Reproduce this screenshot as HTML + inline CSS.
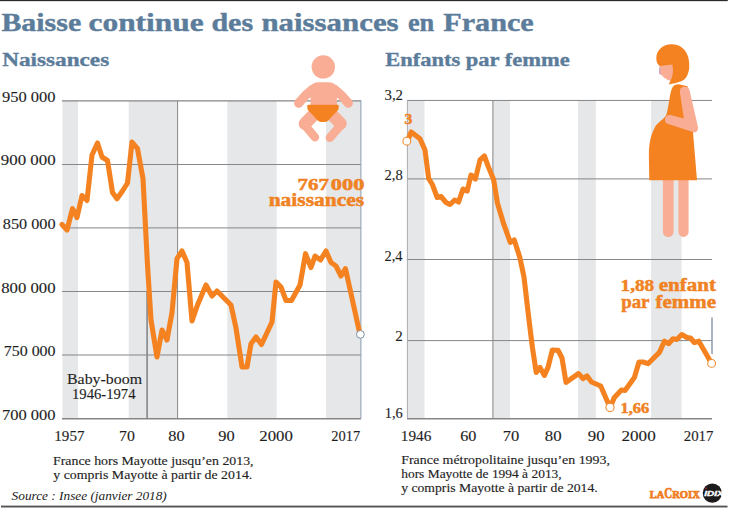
<!DOCTYPE html>
<html lang="fr">
<head>
<meta charset="utf-8">
<title>Baisse continue des naissances en France</title>
<style>
  html, body { margin: 0; padding: 0; background: #ffffff; }
  body { width: 729px; height: 509px; overflow: hidden; font-family: "Liberation Serif", serif; }
  svg { display: block; }
  text { font-family: "Liberation Serif", serif; }
  .t-title { font-weight: bold; font-size: 26px; fill: #5b7c9a; stroke: #5b7c9a; stroke-width: 0.4; }
  .t-sub { font-weight: bold; font-size: 18.5px; fill: #5b7c9a; stroke: #5b7c9a; stroke-width: 0.35; }
  .t-ax { font-size: 15px; fill: #1e1e1e; stroke: #1e1e1e; stroke-width: 0.12; }
  .t-note { font-size: 13.3px; fill: #1e1e1e; stroke: #1e1e1e; stroke-width: 0.15; }
  .t-src { font-size: 13.5px; font-style: italic; fill: #222222; }
  .t-or { font-weight: bold; fill: #f08223; stroke: #f08223; stroke-width: 0.5; }
  .band { fill: #e6e7e8; }
  .grid { stroke: #858688; stroke-width: 1; fill: none; }
  .curve { fill: none; stroke: #f58220; stroke-width: 5.1; stroke-linejoin: round; stroke-linecap: round; }
  .dot { fill: #ffffff; stroke: #f08a2e; stroke-width: 1.1; }
  .dotb { fill: #ffffff; stroke: #7b8fa5; stroke-width: 1; }
  .skin { fill: #f8ad94; }
  .skin-s { stroke: #f8ad94; fill: none; stroke-linecap: round; stroke-linejoin: round; }
  .or { fill: #f58220; }
</style>
</head>
<body>
<svg width="729" height="509" viewBox="0 0 729 509">
  <rect x="0" y="0" width="729" height="509" fill="#ffffff"/>
  <!-- top / bottom rules -->
  <rect x="0" y="0" width="727.8" height="1.15" fill="#2a2a2a"/>
  <rect x="1" y="505.6" width="726.5" height="1.9" fill="#555555"/>

  <!-- headings -->
  <text class="t-title" x="1.4" y="30.7" textLength="79.8" lengthAdjust="spacingAndGlyphs">Baisse</text>
  <text class="t-title" x="88.5" y="30.7" textLength="115.2" lengthAdjust="spacingAndGlyphs">continue</text>
  <text class="t-title" x="211.4" y="30.7" textLength="41.8" lengthAdjust="spacingAndGlyphs">des</text>
  <text class="t-title" x="261.4" y="30.7" textLength="137.2" lengthAdjust="spacingAndGlyphs">naissances</text>
  <text class="t-title" x="407.9" y="30.7" textLength="26.4" lengthAdjust="spacingAndGlyphs">en</text>
  <text class="t-title" x="443.2" y="30.7" textLength="90.6" lengthAdjust="spacingAndGlyphs">France</text>
  <text class="t-sub" x="2.2" y="65.8" textLength="107" lengthAdjust="spacingAndGlyphs">Naissances</text>
  <text class="t-sub" x="385.2" y="65.9" textLength="184.5" lengthAdjust="spacingAndGlyphs">Enfants par femme</text>

  <!-- ================= LEFT CHART ================= -->
  <g id="left-chart">
    <rect class="band" x="62.5" y="101" width="15.5" height="317"/>
    <rect class="band" x="128.7" y="101" width="48.6" height="317"/>
    <rect class="band" x="227.3" y="101" width="49.4" height="317"/>
    <rect class="band" x="326" y="101" width="35" height="317"/>

    <line class="grid" x1="62" y1="100.9" x2="361" y2="100.9" style="stroke-width:1.2"/>
    <line class="grid" x1="62" y1="164.5" x2="361" y2="164.5"/>
    <line class="grid" x1="62" y1="227.9" x2="361" y2="227.9"/>
    <line class="grid" x1="62" y1="291.5" x2="361" y2="291.5"/>
    <line class="grid" x1="62" y1="355" x2="361" y2="355"/>
    <line class="grid" x1="62" y1="418.7" x2="361" y2="418.7" style="stroke-width:1.4"/>
    <line class="grid" x1="147.1" y1="291" x2="147.1" y2="418.6" style="stroke-width:1.6"/>
    <line class="grid" x1="177.6" y1="101" x2="177.6" y2="418.6"/>
    <line x1="360.9" y1="100.5" x2="360.9" y2="418.6" stroke="#8d9cae" stroke-width="1"/>

    <polyline class="curve" points="62,224.5 67,230 72.5,208.7 77,217.5 82,195.5 87,200.5 92,155 97.5,143 102,157 107.5,160.5 112.5,192.5 117,198.7 122.5,191 127.5,183 132,142 137.5,148.7 143,178.7 147.5,265 151,320 157,357 162,330 167,340 172,312.5 177,258.7 182,251 187,262.5 192,321 197.5,305 206,285 212,296 217,291 231,305 236,328 242,367 247,367 251,343.7 256,337 261.5,344.5 272,322 276,282 281,287 286,300.5 291.5,300.5 300,285 305.5,253.7 311,267.5 315,256 320.5,260 326,251 331,262.5 336,266 341,276 345.5,268.7 360,334.5"/>
    <circle class="dotb" cx="360.4" cy="334.4" r="3.9"/>

    <text class="t-ax" x="2.0" y="102.3" textLength="53.6" lengthAdjust="spacingAndGlyphs">950 000</text>
    <text class="t-ax" x="0.8" y="165.1" textLength="54.8" lengthAdjust="spacingAndGlyphs">900 000</text>
    <text class="t-ax" x="2.8" y="229.1" textLength="52.8" lengthAdjust="spacingAndGlyphs">850 000</text>
    <text class="t-ax" x="1.2" y="292.7" textLength="54.4" lengthAdjust="spacingAndGlyphs">800 000</text>
    <text class="t-ax" x="3.7" y="355.9" textLength="51.9" lengthAdjust="spacingAndGlyphs">750 000</text>
    <text class="t-ax" x="2.0" y="420.1" textLength="53.6" lengthAdjust="spacingAndGlyphs">700 000</text>

    <text class="t-ax" x="54.3" y="441.1" textLength="30.2" lengthAdjust="spacingAndGlyphs">1957</text>
    <text class="t-ax" x="119" y="441.1" textLength="15.9" lengthAdjust="spacingAndGlyphs">70</text>
    <text class="t-ax" x="168.2" y="441.1" textLength="16.4" lengthAdjust="spacingAndGlyphs">80</text>
    <text class="t-ax" x="218.2" y="441.1" textLength="16.4" lengthAdjust="spacingAndGlyphs">90</text>
    <text class="t-ax" x="259.3" y="441.1" textLength="33.6" lengthAdjust="spacingAndGlyphs">2000</text>
    <text class="t-ax" x="331.2" y="441.1" textLength="29" lengthAdjust="spacingAndGlyphs">2017</text>

    <text class="t-ax" x="67" y="384" textLength="75" lengthAdjust="spacingAndGlyphs">Baby-boom</text>
    <text class="t-ax" x="72" y="399.3" textLength="63.5" lengthAdjust="spacingAndGlyphs">1946-1974</text>

    <text class="t-or" x="297.6" y="189.6" font-size="16.8" textLength="31.2" lengthAdjust="spacingAndGlyphs">767</text>
    <text class="t-or" x="330.8" y="189.6" font-size="16.8" textLength="33.6" lengthAdjust="spacingAndGlyphs">000</text>
    <text class="t-or" x="268.7" y="206.4" font-size="18.6" textLength="95.4" lengthAdjust="spacingAndGlyphs">naissances</text>

    <text class="t-note" x="53" y="464.8" textLength="200.6" lengthAdjust="spacingAndGlyphs">France hors Mayotte jusqu’en 2013,</text>
    <text class="t-note" x="53.3" y="478.8" textLength="199" lengthAdjust="spacingAndGlyphs">y compris Mayotte à partir de 2014.</text>
    <text class="t-src" x="11.6" y="499.6" textLength="155.2" lengthAdjust="spacingAndGlyphs">Source : Insee (janvier 2018)</text>
  </g>

  <!-- baby icon -->
  <g id="baby">
    <circle class="skin" cx="323.3" cy="66.9" r="11.7"/>
    <path class="skin" d="M310.5,89 Q311,82.3 318,82.3 L329,82.3 Q336,82.3 336.8,89 L337,108 L310.5,108 Z"/>
    <path class="skin-s" stroke-width="9.2" d="M313,89 Q305.5,94.5 298.7,103.2"/>
    <path class="skin-s" stroke-width="9.2" d="M334,89 Q341.5,94.5 348.3,103.2"/>
    <path class="skin-s" stroke-width="12.6" d="M313,115.5 L304.9,123.7"/>
    <path class="skin-s" stroke-width="8.4" d="M304.2,124.6 L315,137.2"/>
    <path class="skin-s" stroke-width="12.6" d="M332.8,115.5 L340.5,123.5"/>
    <path class="skin-s" stroke-width="8.6" d="M341.2,124.6 L329.9,137.8"/>
    <path class="or" d="M308.5,104.8 L337.5,104.8 Q338.8,104.8 338.8,106 L338.6,108.6 Q338.5,109.6 337.8,110.3 L328.2,120.4 Q326.6,122 324.4,122 L321.6,122 Q319.4,122 317.8,120.4 L308.2,110.3 Q307.5,109.6 307.4,108.6 L307.2,106 Q307.2,104.8 308.5,104.8 Z"/>
  </g>

  <!-- ================= RIGHT CHART ================= -->
  <g id="right-chart">
    <rect class="band" x="407" y="100" width="17.5" height="318"/>
    <rect class="band" x="493" y="100" width="17" height="318"/>
    <rect class="band" x="578" y="100" width="17.8" height="318"/>
    <rect class="band" x="651.1" y="100" width="30.5" height="318"/>

    <line class="grid" x1="407" y1="100.45" x2="712" y2="100.45"/>
    <line class="grid" x1="407" y1="178.9" x2="712" y2="178.9"/>
    <line class="grid" x1="407" y1="259.5" x2="712" y2="259.5"/>
    <line class="grid" x1="407" y1="340.6" x2="712" y2="340.6"/>
    <line class="grid" x1="407" y1="418.7" x2="712" y2="418.7" style="stroke-width:1.4"/>
    <line x1="407.4" y1="100" x2="407.4" y2="418.6" stroke="#a5a6a8" stroke-width="0.9"/>
    <line class="grid" x1="492.9" y1="100" x2="492.9" y2="418.6"/>
    <line x1="712" y1="317.5" x2="712" y2="354" stroke="#8e9db0" stroke-width="1.5"/>

    <polyline class="curve" points="408,140 411.2,132 420,138.7 425,150 428.7,178.7 432.4,184.5 437.2,197.5 441,196.5 446,202.5 450,204.5 454.7,200 458.6,202 463,189 467.2,191 471,175 475.4,179 480,160 484.4,156 488.6,167.4 493.6,179.5 497.4,203 503.6,223.7 510.3,242.4 514.3,240 519.8,257.4 524,277 528.7,317.4 532.4,347.4 536.2,372.4 540,367.4 544.4,375.4 548,367.4 552.4,350 558,350.2 562,358 566,382.4 578.4,373.6 583,378.6 587,376 591.5,382 600.7,386 610,407.4 614.4,397.4 621.4,390 625,390.4 634.4,377.4 639,362 643,362 648,363.7 659.4,352.4 664.4,341.2 668.8,343.7 673,338.7 676.8,339.5 681.8,334.5 686.8,337.5 690.5,338 694.3,342.5 698.8,341.2 711.8,363.7"/>
    <circle class="dot" cx="406.8" cy="141.2" r="3.9"/>
    <circle class="dot" cx="610" cy="407.4" r="4.1"/>
    <circle class="dot" cx="711.6" cy="363.4" r="3.9"/>

    <text class="t-ax" x="384.5" y="100.3" textLength="18.5" lengthAdjust="spacingAndGlyphs">3,2</text>
    <text class="t-ax" x="384.5" y="180" textLength="18.3" lengthAdjust="spacingAndGlyphs">2,8</text>
    <text class="t-ax" x="384.5" y="260.8" textLength="18" lengthAdjust="spacingAndGlyphs">2,4</text>
    <text class="t-ax" x="395.2" y="341.3">2</text>
    <text class="t-ax" x="384.7" y="418" textLength="18" lengthAdjust="spacingAndGlyphs">1,6</text>

    <text class="t-ax" x="400.8" y="441.1" textLength="30.6" lengthAdjust="spacingAndGlyphs">1946</text>
    <text class="t-ax" x="460.2" y="441.1" textLength="16.2" lengthAdjust="spacingAndGlyphs">60</text>
    <text class="t-ax" x="502.8" y="441.1" textLength="16.6" lengthAdjust="spacingAndGlyphs">70</text>
    <text class="t-ax" x="544.8" y="441.1" textLength="16.8" lengthAdjust="spacingAndGlyphs">80</text>
    <text class="t-ax" x="587.8" y="441.1" textLength="16.8" lengthAdjust="spacingAndGlyphs">90</text>
    <text class="t-ax" x="621.5" y="441.1" textLength="34.2" lengthAdjust="spacingAndGlyphs">2000</text>
    <text class="t-ax" x="683.7" y="441.1" textLength="29.8" lengthAdjust="spacingAndGlyphs">2017</text>

    <text class="t-or" x="404.4" y="124" font-size="14.8" textLength="7.8" lengthAdjust="spacingAndGlyphs">3</text>
    <text class="t-or" x="620.6" y="412.7" font-size="13.8" textLength="28.6" lengthAdjust="spacingAndGlyphs">1,66</text>
    <text class="t-or" x="620.6" y="290.8" font-size="17" textLength="33.6" lengthAdjust="spacingAndGlyphs">1,88</text>
    <text class="t-or" x="658.8" y="290.8" font-size="18.6" textLength="57.2" lengthAdjust="spacingAndGlyphs">enfant</text>
    <text class="t-or" x="621.2" y="308" font-size="18.6" textLength="28.3" lengthAdjust="spacingAndGlyphs">par</text>
    <text class="t-or" x="655.6" y="308" font-size="18.6" textLength="60.4" lengthAdjust="spacingAndGlyphs">femme</text>

    <text class="t-note" x="401.2" y="464.2" textLength="208.8" lengthAdjust="spacingAndGlyphs">France métropolitaine jusqu’en 1993,</text>
    <text class="t-note" x="401.2" y="478" textLength="160.5" lengthAdjust="spacingAndGlyphs">hors Mayotte de 1994 à 2013,</text>
    <text class="t-note" x="401.2" y="491.8" textLength="196.5" lengthAdjust="spacingAndGlyphs">y compris Mayotte à partir de 2014.</text>
  </g>

  <!-- pregnant woman icon -->
  <g id="woman">
    <rect class="skin" x="662.9" y="176" width="10.7" height="60.9" rx="5.2"/>
    <rect class="skin" x="678.4" y="176" width="10.2" height="60.9" rx="5.1"/>
    <path class="skin" d="M659.6,64.5 L673.5,63.5 L673.5,74 L671,81 C667,80 664,78 661.8,75.3 L659.5,74.2 Z"/>
    <rect x="659.1" y="67.6" width="1.2" height="6.4" fill="#c8a2cc"/>
    <path class="or" d="M656.3,58.2 C656.3,50 663,44.2 671.4,44.2 C681,44.2 686.6,50.5 688.3,57.5 C690,65 689.6,72 686.2,77.3 C683.3,81.6 678,82.9 668.7,84.5 C671,80 673.3,75 673,70 L672.3,64.6 L659.7,65.9 C657.5,64.2 656.3,62 656.3,58.2 Z"/>
    <path class="or" d="M678.6,84.3 L687.5,86.3 L693,132 L697,180.2 L649.3,180.2 L648.9,157 C648.9,145 650,136.5 655,127 C657.3,123 663,120 666.2,115.3 C667.5,111 668.6,104 669.7,97.7 C670.6,92 671.4,89 672.7,87 C674,85 676,84.2 678.6,84.3 Z"/>
    <path class="skin" d="M679.8,92 L683.9,118.4 L670.6,115.1 A4.6,4.6 0 0 0 668.3,124 L693.5,132.2 Q696.5,133 697.6,130.3 Q698.4,128.6 698,127 L689.6,90.4 A5,5 0 0 0 679.8,92 Z"/>
  </g>

  <!-- logos -->
  <g id="logos">
    <g font-weight="bold" fill="#f07d1f" stroke="#f07d1f" stroke-width="0.75">
      <text x="649.8" y="497.9" font-size="10.6" textLength="14.4" lengthAdjust="spacingAndGlyphs">LA</text>
      <text x="664.2" y="498.4" font-size="15.4" textLength="8" lengthAdjust="spacingAndGlyphs">C</text>
      <text x="672.2" y="497.9" font-size="10.3" textLength="27.6" lengthAdjust="spacingAndGlyphs">ROIX</text>
    </g>
    <circle cx="712.3" cy="493.1" r="9.6" fill="#1c1a1b"/>
    <text x="704.3" y="495.6" font-size="6.6" font-weight="bold" font-style="italic" fill="#ffffff" stroke="#ffffff" stroke-width="0.3" textLength="19.5" lengthAdjust="spacingAndGlyphs" style="font-family:'Liberation Sans',sans-serif">IDIX</text>
    <circle cx="706" cy="488.3" r="0.8" fill="#e3222a"/>
  </g>
</svg>
</body>
</html>
